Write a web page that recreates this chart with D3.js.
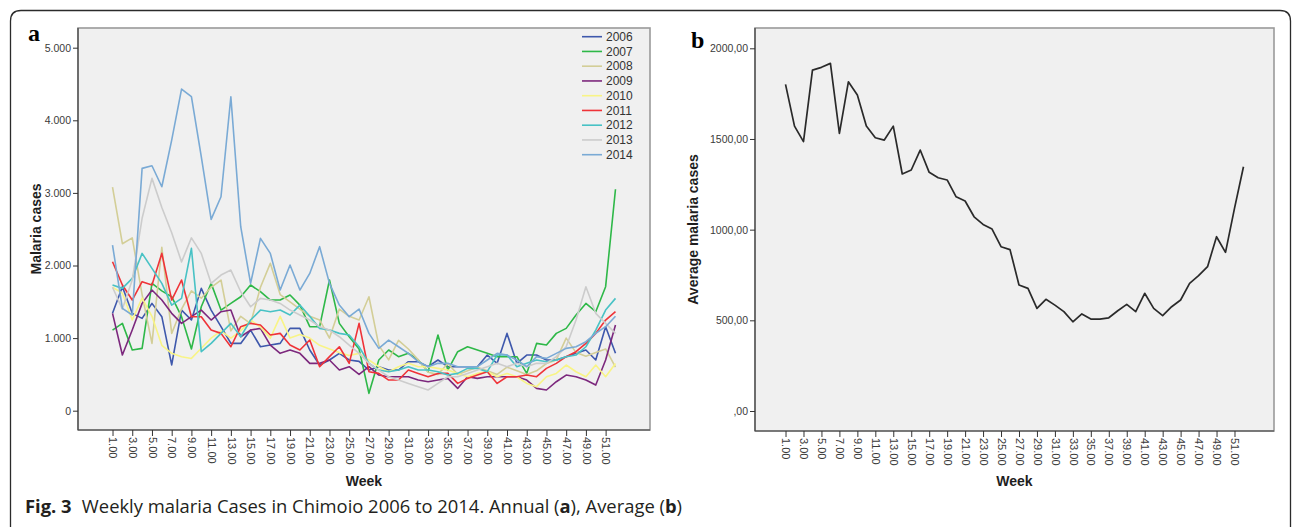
<!DOCTYPE html>
<html lang="en">
<head>
<meta charset="UTF-8">
<title>Weekly malaria cases in Chimoio</title>
<script src="https://cdn.jsdelivr.net/npm/d3@7"></script>
<style>
    body {
        margin: 0;
        background-color: white;
    }
    svg {
        display: block;
    }
    .axis text {
        font-family: "Liberation Sans", Arial, sans-serif;
        font-size: 10.5px;
        fill: #3a3a3a;
    }
    .axis.xaxis text {
        font-size: 11px;
    }
    .axis line {
        stroke: #333;
    }
    .axisTitle {
        font-family: "Liberation Sans", Arial, sans-serif;
        font-size: 14px;
        font-weight: bold;
        fill: #1e1e1e;
    }
    .panelLetter {
        font-family: "Liberation Serif", "Times New Roman", serif;
        font-size: 24px;
        font-weight: bold;
        fill: black;
    }
    .legend text {
        font-family: "Liberation Sans", Arial, sans-serif;
        font-size: 12px;
        fill: #333;
    }
    .caption {
        font-family: "Open Sans", sans-serif;
        font-size: 18px;
        fill: #231f20;
    }
</style>
</head>
<body>
<svg width="1292" height="527"></svg>
<script>
    // weeks 1..52 (categories)
    var weeks = d3.range(1, 53);
    var years = ["2006", "2007", "2008", "2009", "2010", "2011", "2012", "2013", "2014"];
    var yearColors = ["#3e58ac", "#2eb848", "#d3ce97", "#7c287d", "#f8f486", "#ef3338", "#48c2c5", "#cccccc", "#7aaad5"];

    var cases2006 = [1341, 1708, 1341, 1272, 1478, 1295, 630, 1386, 1249, 1685, 1386, 1157, 927, 927, 1111, 881, 904, 927, 1134, 1134, 836, 629, 698, 790, 698, 680,
        560, 606, 560, 560, 675, 675, 606, 698, 606, 606, 606, 606, 767, 652, 1065, 652, 767, 767, 698, 698, 744, 790, 836, 698, 1157, 790];
    var cases2007 = [1111, 1203, 836, 858, 1754, 1650, 1570, 1295, 850, 1432, 1754, 1386, 1478, 1570, 1731, 1639, 1524, 1524, 1593, 1455, 1157, 1157, 1800, 1203, 1019, 850,
        239, 698, 836, 744, 790, 698, 537, 1042, 560, 813, 881, 836, 790, 744, 744, 744, 514, 927, 904, 1065, 1134, 1318, 1478, 1364, 1708, 3050];
    var cases2008 = [3080, 2300, 2380, 1600, 927, 2250, 1065, 1400, 1650, 1550, 1700, 1800, 1100, 1300, 1200, 1700, 2030, 1600, 1500, 1400, 1300, 1250, 1000, 1400, 1300, 1250,
        1570, 900, 700, 970, 850, 700, 530, 500, 650, 500, 550, 600, 550, 500, 600, 550, 500, 550, 650, 700, 1000, 800, 750, 800, 850, 600];
    var cases2009 = [1341, 767, 1111, 1478, 1662, 1524, 1341, 1203, 1295, 1386, 1249, 1364, 1386, 1019, 1111, 1134, 904, 790, 836, 790, 652, 652, 698, 560, 606, 500,
        606, 491, 468, 468, 468, 422, 399, 422, 445, 307, 468, 445, 468, 468, 468, 468, 422, 307, 285, 399, 491, 468, 422, 353, 698, 1180];
    var cases2010 = [1700, 1620, 1250, 1550, 1300, 900, 790, 744, 720, 860, 1000, 1100, 1000, 1100, 1250, 1150, 1000, 1300, 1000, 1050, 1000, 900, 850, 800, 760, 790,
        698, 606, 537, 606, 652, 606, 606, 583, 560, 514, 468, 514, 537, 468, 514, 468, 376, 331, 468, 514, 629, 537, 468, 629, 468, 650];
    var cases2011 = [2052, 1731, 1524, 1777, 1731, 2167, 1524, 1800, 1295, 1295, 1111, 1065, 881, 1157, 1203, 1180, 1042, 1065, 904, 836, 973, 606, 744, 881, 652, 1203,
        537, 514, 422, 422, 560, 514, 468, 514, 514, 376, 445, 491, 537, 376, 468, 468, 491, 468, 583, 652, 744, 813, 927, 1065, 1249, 1364];
    var cases2012 = [1731, 1685, 1823, 2167, 1960, 1754, 1455, 1547, 2236, 813, 927, 1065, 1203, 1019, 1249, 1386, 1364, 1386, 1318, 1455, 1300, 1134, 1111, 1065, 1042, 881,
        652, 560, 537, 560, 606, 560, 560, 537, 491, 514, 583, 583, 537, 767, 767, 606, 652, 698, 675, 698, 744, 767, 881, 1111, 1386, 1547];
    var cases2013 = [1700, 1400, 1800, 2650, 3200, 2800, 2450, 2050, 2380, 2167, 1754, 1868, 1937, 1639, 1432, 1547, 1524, 1478, 1386, 1318, 1249, 1157, 1111, 1019, 904, 790,
        652, 560, 468, 422, 376, 331, 285, 376, 468, 468, 514, 560, 606, 652, 606, 652, 606, 652, 652, 744, 881, 1249, 1708, 1341, 1203, 1065];
    var cases2014 = [2282, 1409, 1318, 3338, 3374, 3085, 3728, 4430, 4325, 3498, 2635, 2947, 4325, 2534, 1754, 2374, 2167, 1662, 2006, 1662, 1891, 2259, 1754, 1455, 1295, 1400,
        1065, 858, 973, 881, 790, 675, 606, 652, 652, 606, 606, 606, 698, 790, 767, 698, 606, 744, 721, 790, 858, 881, 950, 1065, 1157, 1300];
    var annualSeries = [cases2006, cases2007, cases2008, cases2009, cases2010, cases2011, cases2012, cases2013, cases2014];

    var averageCases = [1801, 1571, 1485, 1880, 1895, 1917, 1531, 1815, 1742, 1571, 1507, 1494, 1571, 1307, 1329, 1439, 1316, 1286, 1274, 1181, 1158, 1071, 1029, 1003, 906, 890,
        695, 676, 566, 616, 584, 548, 492, 535, 507, 507, 514, 553, 588, 548, 649, 566, 526, 575, 612, 704, 746, 796, 961, 875, 1117, 1347];

    var xTickWeeks = [1, 3, 5, 7, 9, 11, 13, 15, 17, 19, 21, 23, 25, 27, 29, 31, 33, 35, 37, 39, 41, 43, 45, 47, 49, 51];
    var yTicksA = [0, 1000, 2000, 3000, 4000, 5000];
    var yTickLabelsA = ["0", "1.000", "2.000", "3.000", "4.000", "5.000"];
    var yTicksB = [0, 500, 1000, 1500, 2000];
    var yTickLabelsB = [",00", "500,00", "1000,00", "1500,00", "2000,00"];

    var svg = d3.select("svg");

    // outer figure frame (rounded top corners, open bottom)
    svg.append("path")
        .attr("d", "M10.5,527 L10.5,21 Q10.5,10.5 21,10.5 L1280,10.5 Q1290.5,10.5 1290.5,21 L1290.5,527")
        .attr("fill", "none")
        .attr("stroke", "#2b2b2b")
        .attr("stroke-width", 1.3);

    function drawPanel(opt) {
        var g = svg.append("g");
        var x = d3.scaleLinear()
            .domain([1 - opt.pad, 52 + opt.pad])
            .range([opt.left, opt.right]);
        var y = d3.scaleLinear()
            .domain([0, opt.yMax])
            .range([opt.y0, opt.yTop]);

        g.append("rect")
            .attr("x", opt.left)
            .attr("y", opt.top)
            .attr("width", opt.right - opt.left)
            .attr("height", opt.bottom - opt.top)
            .attr("fill", "#f0f0f0")
            .attr("stroke", "#9a9a9a")
            .attr("stroke-width", 1.6);
        g.append("line")
            .attr("x1", opt.left).attr("x2", opt.left)
            .attr("y1", opt.top).attr("y2", opt.bottom)
            .attr("stroke", "#444").attr("stroke-width", 1.2);
        g.append("line")
            .attr("x1", opt.left).attr("x2", opt.right)
            .attr("y1", opt.bottom).attr("y2", opt.bottom)
            .attr("stroke", "#444").attr("stroke-width", 1.2);

        var axisY = d3.axisLeft(y)
            .tickValues(opt.yTicks)
            .tickFormat(function (d, i) { return opt.yLabels[i]; })
            .tickSize(5)
            .tickPadding(2);
        var gy = g.append("g")
            .attr("class", "axis")
            .attr("transform", "translate(" + opt.left + ",0)")
            .call(axisY);
        gy.select(".domain").remove();

        var axisX = d3.axisBottom(x)
            .tickValues(xTickWeeks)
            .tickFormat(d3.format(".2f"))
            .tickSize(6);
        var gx = g.append("g")
            .attr("class", "axis xaxis")
            .attr("transform", "translate(0," + opt.bottom + ")")
            .call(axisX);
        gx.select(".domain").remove();
        gx.selectAll("text")
            .attr("transform", "rotate(90)")
            .attr("x", 7)
            .attr("y", 0)
            .attr("dy", "0.35em")
            .style("text-anchor", "start");

        var line = d3.line()
            .x(function (d) { return x(d.week); })
            .y(function (d) { return y(d.value); });

        g.selectAll(".series")
            .data(opt.series)
            .enter()
            .append("path")
            .attr("class", "series")
            .attr("fill", "none")
            .attr("stroke", function (d, i) { return opt.colors[i]; })
            .attr("stroke-width", opt.lineWidth)
            .attr("stroke-linejoin", "round")
            .attr("d", function (d) {
                return line(weeks.map(function (w, i) { return {week: w, value: d[i]}; }));
            });

        g.append("text")
            .attr("class", "axisTitle")
            .attr("transform", "translate(" + opt.yTitleX + "," + ((opt.top + opt.bottom) / 2) + ") rotate(-90)")
            .attr("text-anchor", "middle")
            .text(opt.yTitle);
        g.append("text")
            .attr("class", "axisTitle")
            .attr("x", (opt.left + opt.right) / 2)
            .attr("y", 486)
            .attr("text-anchor", "middle")
            .text("Week");
        g.append("text")
            .attr("class", "panelLetter")
            .attr("x", opt.letterX)
            .attr("y", opt.letterY)
            .text(opt.letter);
        return {x: x, y: y, g: g};
    }

    drawPanel({
        left: 78, right: 650, top: 28, bottom: 430, pad: 3.5,
        yMax: 5000, y0: 410.7, yTop: 47.7,
        yTicks: yTicksA, yLabels: yTickLabelsA,
        series: annualSeries, colors: yearColors, lineWidth: 1.6,
        yTitle: "Malaria cases", yTitleX: 41,
        letter: "a", letterX: 28, letterY: 41
    });

    drawPanel({
        left: 755, right: 1274, top: 28, bottom: 431, pad: 3.4,
        yMax: 2000, y0: 411, yTop: 48.3,
        yTicks: yTicksB, yLabels: yTickLabelsB,
        series: [averageCases], colors: ["#2a2a2a"], lineWidth: 1.7,
        yTitle: "Average malaria cases", yTitleX: 698,
        letter: "b", letterX: 691, letterY: 48
    });

    // legend of panel a
    var legend = svg.append("g").attr("class", "legend");
    var rows = legend.selectAll("g")
        .data(years)
        .enter()
        .append("g")
        .attr("transform", function (d, i) { return "translate(0," + (36.7 + i * 14.75) + ")"; });
    rows.append("line")
        .attr("x1", 582).attr("x2", 602)
        .attr("stroke", function (d, i) { return yearColors[i]; })
        .attr("stroke-width", 1.6);
    rows.append("text")
        .attr("x", 606)
        .attr("dy", "0.35em")
        .text(function (d) { return d; });

    // caption
    var cap = svg.append("text")
        .attr("class", "caption")
        .attr("x", 25)
        .attr("y", 513);
    cap.append("tspan").style("font-weight", "bold").text("Fig. 3");
    cap.append("tspan").attr("dx", 10).text("Weekly malaria Cases in Chimoio 2006 to 2014. Annual (");
    cap.append("tspan").style("font-weight", "bold").text("a");
    cap.append("tspan").text("), Average (");
    cap.append("tspan").style("font-weight", "bold").text("b");
    cap.append("tspan").text(")");
    cap.attr("textLength", 657).attr("lengthAdjust", "spacingAndGlyphs");
</script>
</body>
</html>
